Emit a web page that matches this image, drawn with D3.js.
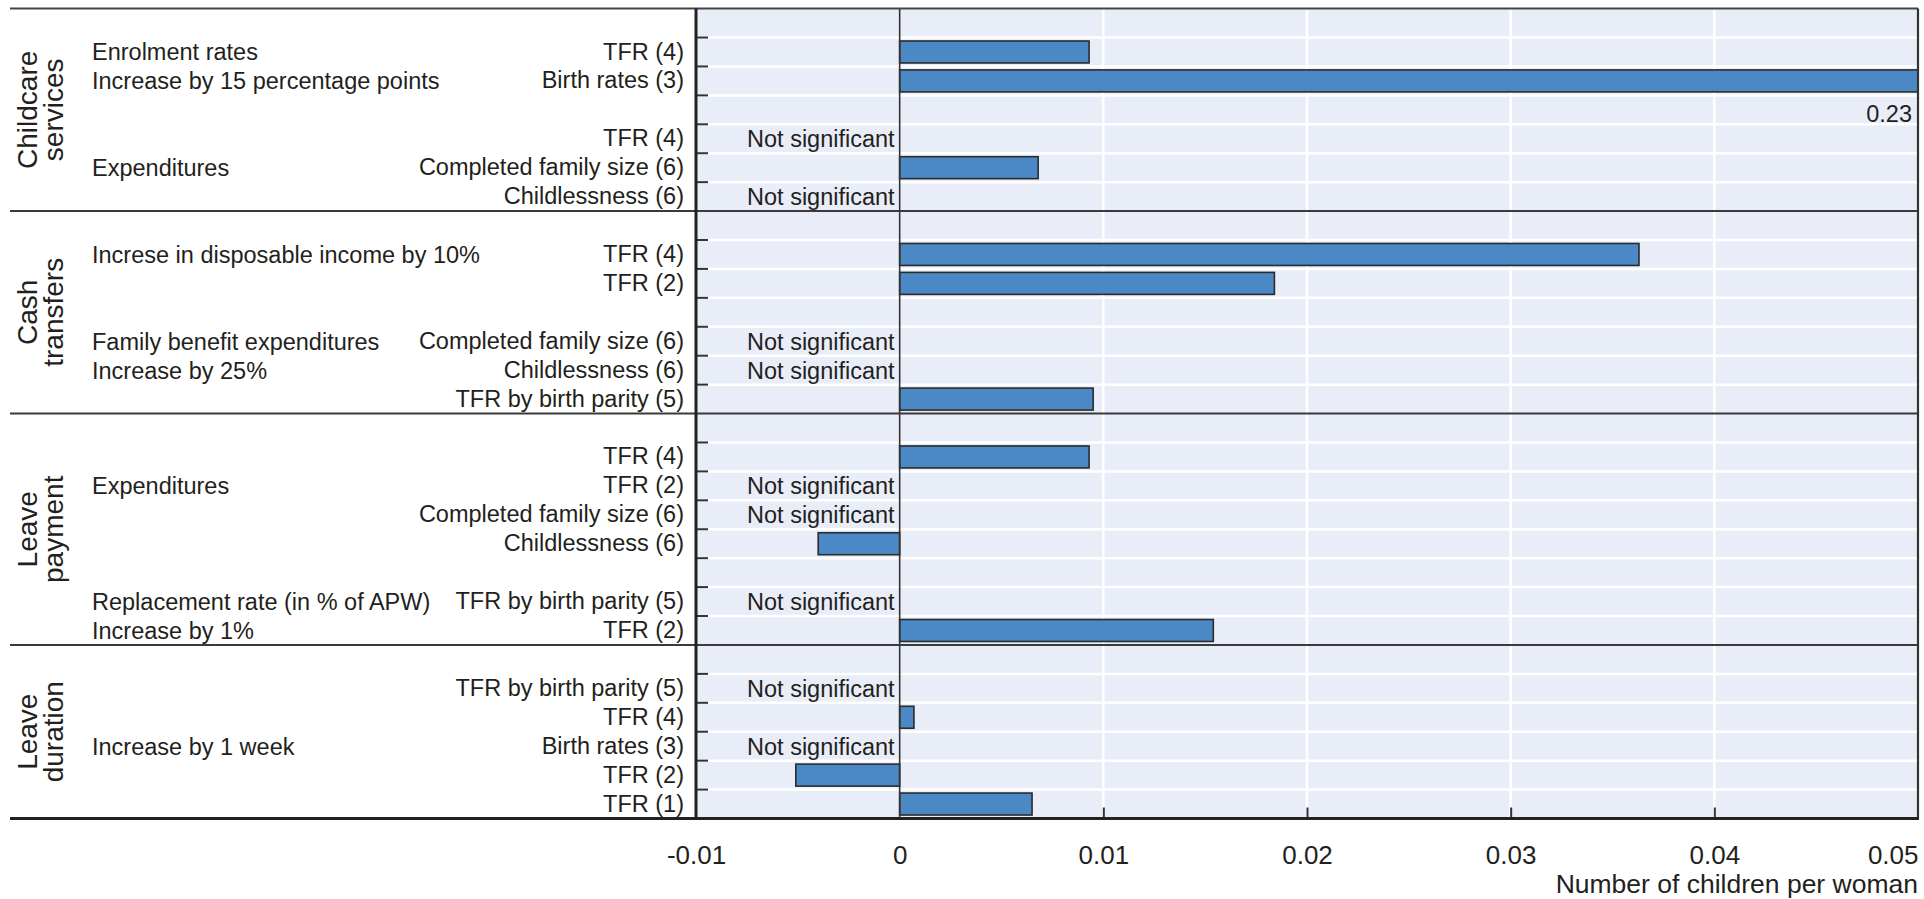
<!DOCTYPE html>
<html>
<head>
<meta charset="utf-8">
<script src="https://cdn.jsdelivr.net/npm/d3@7"></script>
<style>
  html, body { margin: 0; padding: 0; background: #fff; }
  svg { display: block; }
  text { font-family: "Liberation Sans", Arial, sans-serif; fill: #231f20; }
</style>
</head>
<body>
<svg id="chart" width="1924" height="899"></svg>
<script>
// ---------- DATA ----------
const sectionNames = [["Childcare", "services"], ["Cash", "transfers"], ["Leave", "payment"], ["Leave", "duration"]];
const sectionSizes = [7, 7, 8, 6];

const rowLabels = [
  "", "TFR (4)", "Birth rates (3)", "", "TFR (4)", "Completed family size (6)", "Childlessness (6)",
  "", "TFR (4)", "TFR (2)", "", "Completed family size (6)", "Childlessness (6)", "TFR by birth parity (5)",
  "", "TFR (4)", "TFR (2)", "Completed family size (6)", "Childlessness (6)", "", "TFR by birth parity (5)", "TFR (2)",
  "", "TFR by birth parity (5)", "TFR (4)", "Birth rates (3)", "TFR (2)", "TFR (1)"
];
const rowPolicy = [
  "", "Enrolment rates", "Increase by 15 percentage points", "", "", "Expenditures", "",
  "", "Increse in disposable income by 10%", "", "", "Family benefit expenditures", "Increase by 25%", "",
  "", "", "Expenditures", "", "", "", "Replacement rate (in % of APW)", "Increase by 1%",
  "", "", "", "Increase by 1 week", "", ""
];
// null = no bar; "ns" = not significant
const rowValues = [
  null, 0.0093, 0.23, null, "ns", 0.0068, "ns",
  null, 0.0363, 0.0184, null, "ns", "ns", 0.0095,
  null, 0.0093, "ns", "ns", -0.0040, null, "ns", 0.0154,
  null, "ns", 0.0007, "ns", -0.0051, 0.0065
];
const tickValues = [-0.01, 0, 0.01, 0.02, 0.03, 0.04, 0.05];
const tickLabels = ["-0.01", "0", "0.01", "0.02", "0.03", "0.04", "0.05"];
const axisTitle = "Number of children per woman";
const nsText = "Not significant";

// ---------- LAYOUT ----------
const svg = d3.select("#chart");
const plotL = 696, plotR = 1918, plotT = 8.6, plotB = 818.5, lineL = 10;
const ink = "#231f20";

const x = d3.scaleLinear().domain([tickValues[0], tickValues[tickValues.length - 1]]).range([plotL, plotR]);
const y = d3.scaleBand().domain(d3.range(rowLabels.length)).range([plotT, plotB])
  .paddingInner(0.24).paddingOuter(0.12);
const step = y.step();
const boundary = i => plotT + i * step;

const sectionStarts = [];
let acc = 0;
sectionSizes.forEach(s => { sectionStarts.push(acc); acc += s; });
const sectionEdges = new Set([...sectionStarts, acc]);

// background
svg.append("rect").attr("x", plotL).attr("y", plotT).attr("width", plotR - plotL).attr("height", plotB - plotT)
  .attr("fill", "#e9edf8");

// vertical white gridlines
svg.append("g").selectAll("line").data(tickValues.filter(v => v > 0 && v < x.domain()[1])).join("line")
  .attr("x1", d => x(d)).attr("x2", d => x(d)).attr("y1", plotT).attr("y2", plotB)
  .attr("stroke", "#ffffff").attr("stroke-width", 2.5);

// horizontal white gridlines at internal row boundaries
const internal = d3.range(1, rowLabels.length).filter(i => !sectionEdges.has(i));
svg.append("g").selectAll("line").data(internal).join("line")
  .attr("x1", plotL).attr("x2", plotR).attr("y1", d => boundary(d)).attr("y2", d => boundary(d))
  .attr("stroke", "#ffffff").attr("stroke-width", 2.5);

// bars
const barRows = rowValues.map((v, i) => ({ v, i })).filter(d => typeof d.v === "number");
const maxV = x.domain()[1];
svg.append("g").selectAll("rect").data(barRows).join("rect")
  .attr("x", d => d.v >= 0 ? x(0) : x(d.v))
  .attr("width", d => Math.abs(x(Math.min(d.v, maxV)) - x(0)))
  .attr("y", d => y(d.i))
  .attr("height", y.bandwidth())
  .attr("fill", "#4a88c6").attr("stroke", "#2b2b2b").attr("stroke-width", 1.6);

// value label for clipped bars
svg.append("g").selectAll("text").data(barRows.filter(d => d.v > maxV)).join("text")
  .attr("x", plotR - 6).attr("y", d => y(d.i) + step + step / 2).attr("dy", "0.36em")
  .attr("text-anchor", "end").attr("font-size", 23.5)
  .text(d => String(d.v));

// not significant labels
svg.append("g").selectAll("text").data(rowValues.map((v, i) => ({ v, i })).filter(d => d.v === "ns")).join("text")
  .attr("x", x(0) - 5).attr("y", d => y(d.i) + y.bandwidth() / 2).attr("dy", "0.36em")
  .attr("text-anchor", "end").attr("font-size", 23.5)
  .text(nsText);

// zero line
svg.append("line").attr("x1", x(0)).attr("x2", x(0)).attr("y1", plotT).attr("y2", plotB)
  .attr("stroke", "#333").attr("stroke-width", 1.6);

// left axis tick marks at internal row boundaries
svg.append("g").selectAll("line").data(internal).join("line")
  .attr("x1", plotL).attr("x2", plotL + 12).attr("y1", d => boundary(d)).attr("y2", d => boundary(d))
  .attr("stroke", "#333").attr("stroke-width", 2);

// section lines (full width)
svg.append("g").selectAll("line").data(sectionStarts.slice(1)).join("line")
  .attr("x1", lineL).attr("x2", plotR).attr("y1", d => boundary(d)).attr("y2", d => boundary(d))
  .attr("stroke", "#3a3a3a").attr("stroke-width", 2);
// top line
svg.append("line").attr("x1", lineL).attr("x2", plotR).attr("y1", plotT).attr("y2", plotT)
  .attr("stroke", "#444").attr("stroke-width", 2);

// right border
svg.append("line").attr("x1", plotR).attr("x2", plotR).attr("y1", plotT).attr("y2", plotB)
  .attr("stroke", "#333").attr("stroke-width", 2.2);

// bottom axis with inward ticks
const xAxis = d3.axisBottom(x).tickValues(tickValues)
  .tickFormat((d, i) => tickLabels[i]).tickSize(-11).tickSizeOuter(0).tickPadding(27);
const gx = svg.append("g").attr("transform", `translate(0,${plotB})`).call(xAxis);
gx.select(".domain").remove();
gx.selectAll(".tick line").attr("stroke", "#333").attr("stroke-width", 2)
  .attr("opacity", d => (d > tickValues[0] && d !== 0 && d < maxV) ? 1 : 0);
gx.selectAll(".tick text").attr("font-size", 26).attr("font-family", "Liberation Sans, Arial, sans-serif")
  .attr("fill", ink)
  .attr("text-anchor", d => d >= maxV ? "end" : "middle");

// left axis line
svg.append("line").attr("x1", plotL).attr("x2", plotL).attr("y1", plotT).attr("y2", plotB)
  .attr("stroke", "#222").attr("stroke-width", 3);
// bottom line (full width)
svg.append("line").attr("x1", lineL).attr("x2", plotR + 1).attr("y1", plotB).attr("y2", plotB)
  .attr("stroke", "#222").attr("stroke-width", 3);

// axis title
svg.append("text").attr("x", plotR).attr("y", 893).attr("text-anchor", "end")
  .attr("font-size", 26.5).text(axisTitle);

// row labels via band axis
const yAxis = d3.axisLeft(y).tickFormat(i => rowLabels[i]).tickSize(0).tickPadding(12);
const gy = svg.append("g").attr("transform", `translate(${plotL},0)`).call(yAxis);
gy.select(".domain").remove();
gy.selectAll(".tick text").attr("font-size", 23.5).attr("font-family", "Liberation Sans, Arial, sans-serif")
  .attr("fill", ink);

// policy labels
svg.append("g").selectAll("text").data(rowPolicy.map((t, i) => ({ t, i })).filter(d => d.t)).join("text")
  .attr("x", 92).attr("y", d => y(d.i) + y.bandwidth() / 2).attr("dy", "0.36em")
  .attr("font-size", 23.5).text(d => d.t);

// section (rotated) labels
const gs = svg.append("g").selectAll("text").data(sectionNames).join("text")
  .attr("transform", (d, k) => {
    const cy = (boundary(sectionStarts[k]) + boundary(sectionStarts[k] + sectionSizes[k])) / 2;
    return `translate(0,${cy}) rotate(-90)`;
  })
  .attr("text-anchor", "middle").attr("font-size", 28);
gs.selectAll("tspan").data(d => d).join("tspan")
  .attr("x", 0).attr("y", (d, j) => 37 + j * 26).text(d => d);
</script>
</body>
</html>
